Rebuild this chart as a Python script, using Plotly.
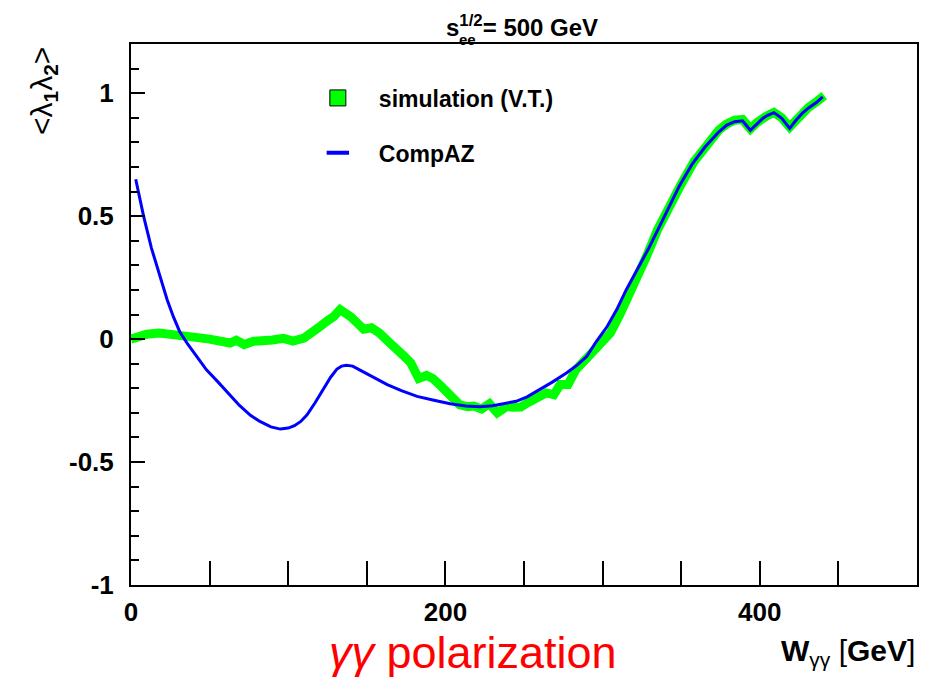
import plotly.graph_objects as go

# ---- data ----
sim_x = [0, 5, 10, 18, 25, 31, 40, 50, 57, 63,
         67, 72, 78, 84, 90, 97, 103, 110, 116, 121,
         125, 129, 133, 137, 140, 144, 148, 153, 158, 164,
         169, 173, 178, 183, 188, 192, 197, 201, 205, 209,
         214, 218, 223, 228, 233, 239, 243, 248, 252, 256,
         260, 264, 269, 273, 278, 283, 290, 298, 305, 311,
         320, 328, 335, 342, 350, 358, 366, 374, 379, 384,
         389, 394, 398, 402, 405, 409, 414, 419, 423, 427,
         431, 436, 441]
sim_y = [0.0, 0.012, 0.02, 0.025, 0.022, 0.015, 0.008, 0.0, -0.005, -0.016,
         -0.005, -0.022, -0.009, -0.01, -0.004, 0.003, -0.008, 0.004, 0.028, 0.055,
         0.075, 0.092, 0.12, 0.105, 0.09, 0.065, 0.04, 0.046, 0.025, -0.012,
         -0.036, -0.065, -0.097, -0.16, -0.148, -0.16, -0.19, -0.219, -0.245, -0.267,
         -0.275, -0.272, -0.284, -0.263, -0.30, -0.274, -0.277, -0.276, -0.26, -0.246,
         -0.233, -0.219, -0.226, -0.185, -0.185, -0.124, -0.077, -0.029, 0.025, 0.1,
         0.215, 0.337, 0.445, 0.54, 0.63, 0.72, 0.79, 0.85, 0.875, 0.89,
         0.893, 0.855, 0.88, 0.9, 0.91, 0.922, 0.9, 0.862, 0.89, 0.92,
         0.942, 0.965, 0.99]

compaz_x = [3, 8, 13, 18, 23, 27, 31, 36, 42, 48,
            55, 62, 69, 76, 82, 89, 95, 100, 104, 108,
            112, 117, 122, 127, 131, 134, 137, 141, 146, 154,
            163, 172, 182, 192, 203, 213, 222, 230, 238, 245,
            252, 260, 268, 277, 284, 290, 296, 303, 309, 315,
            322, 329, 336, 342, 349, 357, 365, 374, 379, 384,
            389, 394, 398, 402, 405, 409, 414, 419, 423, 427,
            431, 436, 440]
compaz_y = [0.65, 0.50, 0.37, 0.26, 0.16, 0.09, 0.03, -0.02, -0.075, -0.125,
            -0.172, -0.22, -0.27, -0.31, -0.335, -0.357, -0.366, -0.362, -0.352, -0.335,
            -0.308, -0.26, -0.206, -0.155, -0.122, -0.11, -0.106, -0.11, -0.127, -0.155,
            -0.185, -0.21, -0.233, -0.248, -0.263, -0.272, -0.275, -0.271, -0.263, -0.253,
            -0.235, -0.206, -0.175, -0.138, -0.105, -0.07, -0.01, 0.052, 0.12, 0.2,
            0.28, 0.365, 0.455, 0.535, 0.625, 0.712, 0.78, 0.843, 0.87, 0.884,
            0.888, 0.849, 0.875, 0.898, 0.91, 0.921, 0.898, 0.857, 0.89, 0.918,
            0.94, 0.962, 0.985]

x_tickvals = [0, 200, 400]
x_ticktext = ["0", "200", "400"]
y_tickvals = [-1, -0.5, 0, 0.5, 1]
y_ticktext = ["-1", "-0.5", "0", "0.5", "1"]

FONT = "Liberation Sans, Arial, Helvetica, sans-serif"
GREEN = "#00ff00"
BLUE = "#0000ff"

fig = go.Figure()
fig.add_trace(go.Scatter(x=sim_x, y=sim_y, mode="lines",
                         line=dict(color=GREEN, width=9),
                         showlegend=False, hoverinfo="skip"))
fig.add_trace(go.Scatter(x=compaz_x, y=compaz_y, mode="lines",
                         line=dict(color=BLUE, width=3),
                         showlegend=False, hoverinfo="skip"))
# legend entries
fig.add_trace(go.Scatter(x=[None], y=[None], mode="markers",
                         marker=dict(symbol="square", size=16, color=GREEN,
                                     line=dict(color="black", width=1)),
                         name="<b>simulation (V.T.)</b>", legendgroup="a"))
fig.add_trace(go.Scatter(x=[None], y=[None], mode="markers",
                         marker=dict(symbol="line-ew", size=24, color=BLUE,
                                     line=dict(color=BLUE, width=4)),
                         name="<b>CompAZ</b>", legendgroup="b"))

fig.update_layout(
    width=934, height=681,
    margin=dict(l=131, r=17, t=44, b=96),
    paper_bgcolor="white", plot_bgcolor="white",
    font=dict(family=FONT, color="black"),
    showlegend=True,
    legend=dict(x=0.211, y=0.94, xanchor="left", yanchor="top",
                bgcolor="rgba(0,0,0,0)", font=dict(size=23, family=FONT),
                itemwidth=72, tracegroupgap=22, traceorder="grouped"),
    xaxis=dict(range=[0, 500], showgrid=False, zeroline=False,
               showline=True, mirror=True, linecolor="black", linewidth=2,
               tickmode="array", tickvals=x_tickvals, ticktext=x_ticktext,
               ticks="inside", ticklen=24, tickwidth=1.5, tickcolor="black",
               tickfont=dict(size=26, family=FONT, weight="bold"),
               ticklabelstandoff=3,
               minor=dict(tickmode="linear", tick0=0, dtick=50, ticks="inside",
                          ticklen=24, tickwidth=1.5, tickcolor="black")),
    yaxis=dict(range=[-1, 1.2], showgrid=False, zeroline=False,
               showline=True, mirror=True, linecolor="black", linewidth=2,
               tickmode="array", tickvals=y_tickvals, ticktext=y_ticktext,
               ticks="inside", ticklen=14, tickwidth=1.5, tickcolor="black",
               tickfont=dict(size=26, family=FONT, weight="bold"),
               ticklabelstandoff=10,
               minor=dict(tickmode="linear", tick0=-1, dtick=0.1, ticks="inside",
                          ticklen=8, tickwidth=1.5, tickcolor="black")),
)

annotations = [
    dict(text="<b>s<sup>1/2</sup>= 500 GeV</b>", xref="paper", yref="paper",
         x=0.497, y=1.0333, xanchor="center", yanchor="middle",
         showarrow=False, font=dict(size=24, family=FONT)),
    dict(text="<b>ee</b>", xref="paper", yref="paper",
         x=0.4275, y=1.0074, xanchor="center", yanchor="middle",
         showarrow=False, font=dict(size=15, family=FONT)),
    dict(text="&lt;λ<sub><b>1</b></sub>λ<sub><b>2</b></sub>&gt;", xref="paper", yref="paper",
         x=-0.112, y=0.998, xanchor="center", yanchor="top", textangle=-90,
         showarrow=False, font=dict(size=30, family=FONT)),
    dict(text="<b>W</b><sub>γγ</sub> [<b>GeV</b>]", xref="paper", yref="paper",
         x=1.0, y=-0.125, xanchor="right", yanchor="middle",
         showarrow=False, font=dict(size=30, family=FONT)),
    dict(text="<i>γγ</i> polarization", xref="paper", yref="paper",
         x=0.435, y=-0.1757, xanchor="center", yanchor="bottom",
         showarrow=False, font=dict(size=45, family=FONT, color="#ff0000")),
]
fig.update_layout(annotations=annotations)

fig.write_html("out.html")
